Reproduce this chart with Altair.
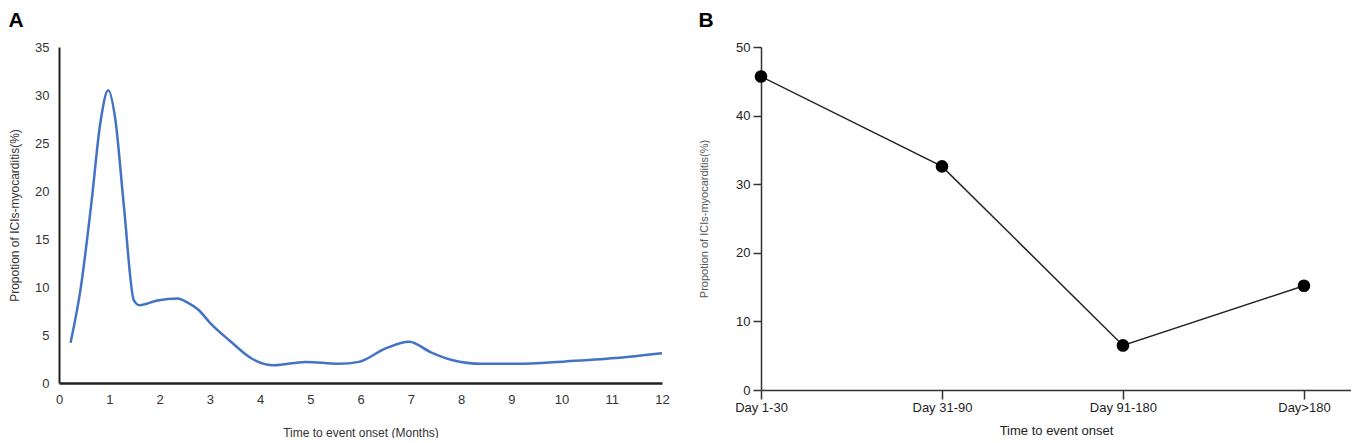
import altair as alt
import pandas as pd

# Panel A data (months, %)
months = [0.23, 0.43, 0.65, 0.82, 0.98, 1.12, 1.29, 1.49, 1.6, 1.96, 2.36, 2.55, 2.78, 3.0, 3.4, 3.85, 4.28, 4.9, 5.57, 5.97, 6.5, 6.97, 7.4, 7.82, 8.42, 9.09, 10.08, 11.08, 12.0]
props_a = [4.2, 9.8, 19.0, 27.0, 30.5, 27.5, 18.5, 8.6, 8.1, 8.6, 8.8, 8.4, 7.6, 6.3, 4.4, 2.5, 1.84, 2.2, 2.0, 2.2, 3.6, 4.3, 3.2, 2.4, 2.0, 2.0, 2.25, 2.6, 3.1]

# Panel B data
categories = ["Day 1-30", "Day 31-90", "Day 91-180", "Day>180"]
props_b = [45.7, 32.6, 6.5, 15.2]

df_a = pd.DataFrame({"m": months, "p": props_a})
df_b = pd.DataFrame({"idx": list(range(len(categories))), "cat": categories, "p": props_b})

FONT = "Liberation Sans"

chart_a = alt.Chart(df_a, title=alt.TitleParams("A", anchor="start", frame="bounds", fontSize=21,
                                                fontWeight="bold", font=FONT, color="black", offset=10)).mark_line(
    color="#4472C4", strokeWidth=2.5, interpolate="monotone"
).encode(
    x=alt.X("m:Q", scale=alt.Scale(domain=[0, 12], nice=False),
            axis=alt.Axis(title="Time to event onset (Months)", values=list(range(13)), ticks=False,
                          grid=False, domainColor="#222222", domainWidth=2.5, labelFontSize=13,
                          labelColor="#333333", titleFontSize=12, titleFontWeight="normal",
                          titleColor="#333333", labelPadding=10, titlePadding=21, labelFlush=False,
                          labelFont=FONT, titleFont=FONT)),
    y=alt.Y("p:Q", scale=alt.Scale(domain=[0, 35], nice=False),
            axis=alt.Axis(title="Propotion of ICIs-myocarditis(%)", values=[0, 5, 10, 15, 20, 25, 30, 35],
                          ticks=False, grid=False, domainColor="#222222", domainWidth=2,
                          labelFontSize=13, labelColor="#333333", titleFontSize=12,
                          titleFontWeight="normal", titleColor="#333333", labelPadding=10,
                          titlePadding=13, labelFont=FONT, titleFont=FONT)),
).properties(width=603, height=336)

base_b = alt.Chart(df_b).encode(
    x=alt.X("idx:Q", scale=alt.Scale(domain=[0, 3.26], nice=False),
            axis=alt.Axis(title="Time to event onset", values=[0, 1, 2, 3],
                          labelExpr="['Day 1-30','Day 31-90','Day 91-180','Day>180'][datum.value]",
                          ticks=True, tickSize=9, tickColor="#333333", tickWidth=1.5, grid=False,
                          domainColor="#333333", domainWidth=1.5, labelFontSize=13,
                          labelColor="#222222", titleFontSize=13, titleFontWeight="normal",
                          titleColor="#222222", labelPadding=2, titlePadding=10, labelFlush=False,
                          labelFont=FONT, titleFont=FONT)),
    y=alt.Y("p:Q", scale=alt.Scale(domain=[0, 50], nice=False),
            axis=alt.Axis(title="Propotion of ICIs-myocarditis(%)", values=[0, 10, 20, 30, 40, 50],
                          ticks=True, tickSize=8, tickColor="#333333", tickWidth=1.5, grid=False,
                          domainColor="#333333", domainWidth=1.5, labelFontSize=13,
                          labelColor="#222222", titleFontSize=11, titleFontWeight="normal",
                          titleColor="#555555", labelPadding=3, titlePadding=26,
                          labelFont=FONT, titleFont=FONT)),
)

line_b = base_b.mark_line(color="#222222", strokeWidth=1.5)
pts_b = base_b.mark_circle(color="black", opacity=1, size=160)

chart_b = alt.layer(line_b, pts_b, title=alt.TitleParams("B", anchor="start", frame="bounds", fontSize=21,
                                                         fontWeight="bold", font=FONT, color="black",
                                                         offset=10)).properties(width=590, height=343)

chart = alt.hconcat(chart_a, chart_b, spacing=28).configure_view(stroke=None).properties(
    padding={"left": 0, "top": 2, "right": 0, "bottom": 0}
)

chart.save("out.html", embed_options={"renderer": "svg", "actions": False})
